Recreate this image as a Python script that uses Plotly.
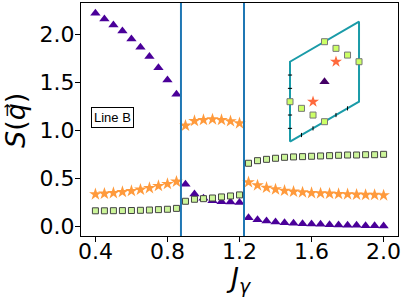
import plotly.graph_objects as go

# ---- main data ----
J = [0.40, 0.45, 0.50, 0.55, 0.60, 0.65, 0.70, 0.75, 0.80, 0.85,
     0.90, 0.95, 1.00, 1.05, 1.10, 1.15, 1.20,
     1.25, 1.30, 1.35, 1.40, 1.45, 1.50, 1.55, 1.60, 1.65, 1.70,
     1.75, 1.80, 1.85, 1.90, 1.95, 2.00]

S_tri = [2.218, 2.159, 2.097, 2.034, 1.951, 1.865, 1.768, 1.653, 1.525, 1.376,
         0.440, 0.340, 0.295, 0.270, 0.260, 0.257, 0.250,
         0.094, 0.073, 0.059, 0.049, 0.042, 0.035, 0.031, 0.028, 0.025, 0.021,
         0.018, 0.015, 0.015, 0.010, 0.010, 0.007]

S_star = [0.337, 0.343, 0.350, 0.361, 0.371, 0.385, 0.402, 0.423, 0.444, 0.468,
          1.050, 1.099, 1.109, 1.116, 1.109, 1.096, 1.075,
          0.462, 0.430, 0.405, 0.388, 0.374, 0.364, 0.357, 0.350, 0.347, 0.343,
          0.340, 0.337, 0.333, 0.330, 0.330, 0.326]

S_sq = [0.165, 0.165, 0.166, 0.167, 0.168, 0.170, 0.173, 0.177, 0.181, 0.190,
        0.264, 0.285, 0.291, 0.298, 0.309, 0.319, 0.330,
        0.659, 0.686, 0.700, 0.711, 0.721, 0.725, 0.728, 0.732, 0.735, 0.738,
        0.742, 0.745, 0.745, 0.748, 0.748, 0.752]

boundaries = [0.875, 1.225]

x_ticks = [0.4, 0.8, 1.2, 1.6, 2.0]
y_ticks = [0.0, 0.5, 1.0, 1.5, 2.0]

# ---- inset (reciprocal-space cell) data ----
cell_u = [0.0, 0.866, 0.866, 0.0, 0.0]
cell_v = [0.0, 0.5, 1.5, 1.0, 0.0]
ins_sq_u = [0.433, 0.577, 0.722, 0.866, 0.0, 0.144, 0.289, 0.433]
ins_sq_v = [1.25, 1.167, 1.083, 1.0, 0.5, 0.417, 0.333, 0.25]
ins_star_u = [0.577, 0.289]
ins_star_v = [1.0, 0.5]
ins_tri_u = [0.433]
ins_tri_v = [0.75]
left_tick_v = [1/6, 2/6, 3/6, 4/6, 5/6]
bottom_tick_u = [0.144, 0.289, 0.577, 0.722]
bottom_tick_v = [0.0833, 0.1667, 0.3333, 0.4167]

TRI_C = "#4a0099"
STAR_C = "#ff9a3c"
SQ_C = "#ccf59a"
LINE_C = "#1f77b4"
CELL_C = "#1a9ba8"

W, H = 415, 303
ML, MR, MT, MB = 81, 17, 3, 67
PW, PH = W - ML - MR, H - MT - MB


def px_x(p):
    return (p - ML) / PW


def px_y(p):
    return (H - MB - p) / PH


fig = go.Figure()

fig.add_trace(go.Scatter(x=J, y=S_tri, mode="markers",
                         marker=dict(symbol="triangle-up", size=9, color=TRI_C, line=dict(width=0)),
                         showlegend=False))
fig.add_trace(go.Scatter(x=J, y=S_star, mode="markers",
                         marker=dict(symbol="star", size=9.5, color=STAR_C, line=dict(width=0)),
                         showlegend=False))
fig.add_trace(go.Scatter(x=J, y=S_sq, mode="markers",
                         marker=dict(symbol="square", size=6, color=SQ_C,
                                     line=dict(width=1, color="#444444")),
                         showlegend=False))

for b in boundaries:
    fig.add_shape(type="line", x0=b, x1=b, y0=0, y1=1, xref="x", yref="paper",
                  line=dict(color=LINE_C, width=2))

# inset
fig.add_trace(go.Scatter(x=cell_u, y=cell_v, mode="lines", xaxis="x2", yaxis="y2",
                         line=dict(color=CELL_C, width=2), showlegend=False))
fig.add_trace(go.Scatter(x=[0.0]*len(left_tick_v), y=left_tick_v, mode="markers",
                         xaxis="x2", yaxis="y2",
                         marker=dict(symbol="line-ew", size=3, line=dict(width=1, color="black")),
                         showlegend=False))
fig.add_trace(go.Scatter(x=bottom_tick_u, y=bottom_tick_v, mode="markers",
                         xaxis="x2", yaxis="y2",
                         marker=dict(symbol="line-ns", size=3, line=dict(width=1, color="black")),
                         showlegend=False))
fig.add_trace(go.Scatter(x=ins_sq_u, y=ins_sq_v, mode="markers", xaxis="x2", yaxis="y2",
                         marker=dict(symbol="square", size=6, color="#ccff66",
                                     line=dict(width=1, color="#777777")),
                         showlegend=False))
fig.add_trace(go.Scatter(x=ins_star_u, y=ins_star_v, mode="markers", xaxis="x2", yaxis="y2",
                         marker=dict(symbol="star", size=9, color="#ff6a3d", line=dict(width=0)),
                         showlegend=False))
fig.add_trace(go.Scatter(x=ins_tri_u, y=ins_tri_v, mode="markers", xaxis="x2", yaxis="y2",
                         marker=dict(symbol="triangle-up", size=9, color="#440066", line=dict(width=0)),
                         showlegend=False))

axis_common = dict(showline=True, linecolor="black", linewidth=1, mirror=True,
                   ticks="outside", ticklen=5, tickwidth=1, tickcolor="black",
                   showgrid=False, zeroline=False,
                   tickfont=dict(family="DejaVu Sans", size=22, color="black"))

fig.update_layout(
    width=W, height=H,
    margin=dict(l=ML, r=MR, t=MT, b=MB),
    plot_bgcolor="white", paper_bgcolor="white",
    xaxis=dict(range=[0.32, 2.08], tickvals=x_ticks, tickformat=".1f",
               ticklabelstandoff=-9, **axis_common),
    yaxis=dict(range=[-0.097, 2.325], tickvals=y_ticks, tickformat=".1f",
               ticklabelstandoff=-4, **axis_common),
    xaxis2=dict(domain=[px_x(280), px_x(370)], range=[-0.1255, 1.0038], visible=False,
                anchor="y2", fixedrange=True),
    yaxis2=dict(domain=[px_y(150), px_y(15)], range=[-0.104, 1.584], visible=False,
                anchor="x2", fixedrange=True),
    annotations=[
        dict(text="Line B", x=0.494, y=1.138, xref="x", yref="y", showarrow=False,
             font=dict(family="Liberation Sans", size=13, color="black"),
             bordercolor="black", borderwidth=1, borderpad=2, bgcolor="white"),
        dict(text="<i>S</i>(<i>q</i>\u20d7)", x=px_x(15), y=px_y(121),
             xref="paper", yref="paper", xanchor="center", yanchor="middle",
             showarrow=False, textangle=-90,
             font=dict(family="DejaVu Sans", size=27, color="black")),
        dict(text="<i>J<sub>γ</sub></i>", x=px_x(238), y=px_y(279),
             xref="paper", yref="paper", xanchor="center", yanchor="middle",
             showarrow=False,
             font=dict(family="DejaVu Sans", size=27, color="black")),
    ],
)

fig.write_html("out.html", config={"displayModeBar": False},
               post_script="document.body.style.margin='0';document.body.style.padding='0';")
